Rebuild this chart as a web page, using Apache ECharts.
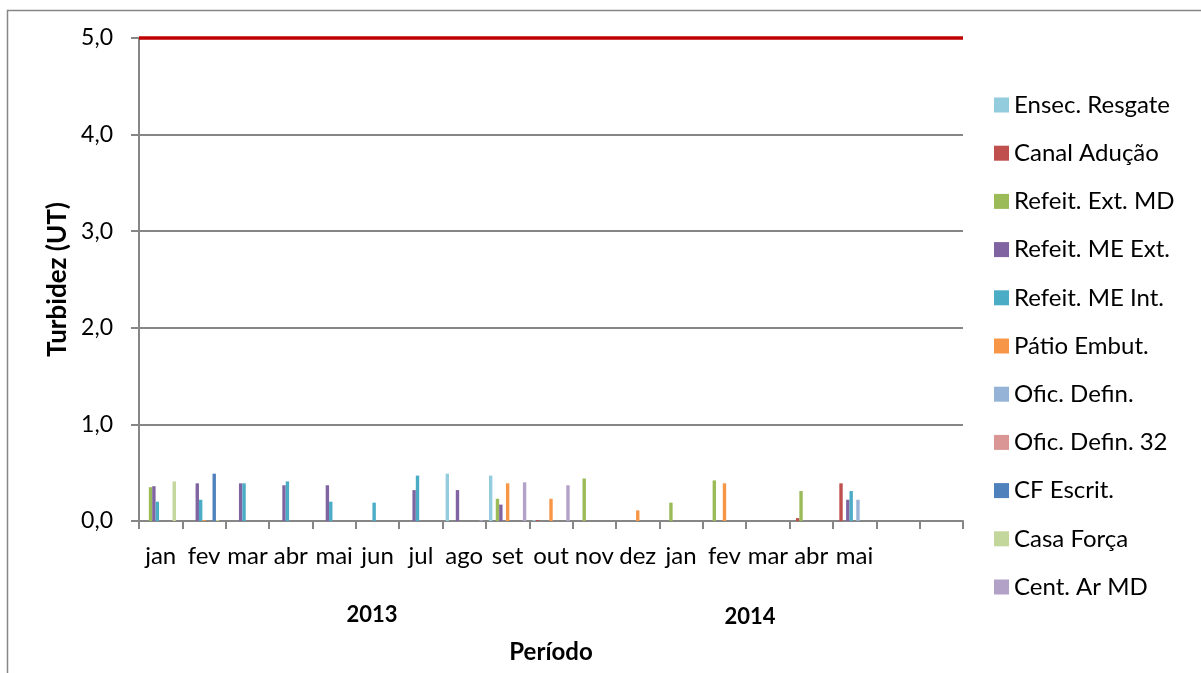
<!DOCTYPE html>
<html>
<head>
<meta charset="utf-8">
<title>Turbidez</title>
<script src="https://cdn.jsdelivr.net/npm/echarts@6/dist/echarts.min.js"></script>
<style>
  html, body { margin: 0; padding: 0; background: #ffffff; }
  #chart { width: 1201px; height: 673px; }
</style>
</head>
<body>
<div id="chart"></div>
<script>
// Month categories (2013 jan..dez, 2014 jan..mai, plus two empty slots)
const months = ['jan','fev','mar','abr','mai','jun','jul','ago','set','out','nov','dez',
                'jan','fev','mar','abr','mai','',''];
const yearLabels = ['2013', '2014'];
const yTicks = [0, 1, 2, 3, 4, 5];
const limitValue = 5.0;

const seriesNames = ['Ensec. Resgate','Canal Adução','Refeit. Ext. MD','Refeit. ME Ext.',
  'Refeit. ME Int.','Pátio Embut.','Ofic. Defin.','Ofic. Defin. 32','CF Escrit.',
  'Casa Força','Cent. Ar MD'];

// Turbidity readings (UT) per month; null = no reading
const N = null;
const ensecResgate   = [N,N,N,N,N,N,N,0.49,0.47,0.01,N,N, N,N,N,N,N, N,N];
const canalAducao    = [N,N,N,N,N,N,N,N,N,0.01,N,N, N,N,N,0.03,0.39, N,N];
const refeitExtMD    = [0.35,N,N,N,N,N,N,N,0.23,N,0.44,N, 0.19,0.42,N,0.31,N, N,N];
const refeitMEExt    = [0.36,0.39,0.39,0.37,0.37,N,0.32,0.32,0.17,N,N,N, N,N,N,N,0.22, N,N];
const refeitMEInt    = [0.20,0.22,0.39,0.41,0.20,0.19,0.47,N,N,N,N,N, N,N,N,N,0.31, N,N];
const patioEmbut     = [N,0.01,N,N,N,N,N,N,0.39,0.23,N,0.11, N,0.39,N,N,N, N,N];
const oficDefin      = [N,N,N,N,N,N,N,N,N,N,N,N, N,N,N,N,0.22, N,N];
const oficDefin32    = [N,N,N,N,N,N,N,N,N,N,N,N, N,N,N,N,N, N,N];
const cfEscrit       = [N,0.49,N,N,N,N,N,N,N,N,N,N, N,N,N,N,N, N,N];
const casaForca      = [0.41,0.01,N,N,N,N,N,N,N,N,N,N, N,N,N,N,N, N,N];
const centArMD       = [N,N,N,N,N,N,N,0.01,0.40,0.37,N,N, N,N,N,N,N, N,N];

const seriesData = [ensecResgate, canalAducao, refeitExtMD, refeitMEExt, refeitMEInt,
  patioEmbut, oficDefin, oficDefin32, cfEscrit, casaForca, centArMD];

const colors = ['#93cddd','#c0504d','#9bbb59','#8064a2','#4bacc6','#f79646',
  '#95b3d7','#d99694','#4f81bd','#c3d69b','#b3a2c7'];

const FONT = 'Lato, "Open Sans", sans-serif';
const GRAY = '#868686';

const chart = echarts.init(document.getElementById('chart'), null, { renderer: 'canvas' });

const series = seriesNames.map((name, i) => ({
  name: name,
  type: 'bar',
  data: seriesData[i],
  barGap: '0%',
  barCategoryGap: '14%',
  itemStyle: { color: colors[i] },
  emphasis: { disabled: true }
}));

// Red limit line at 5,0 UT
series[0].markLine = {
  silent: true,
  symbol: 'none',
  label: { show: false },
  lineStyle: { color: '#c00000', width: 3.5, type: 'solid' },
  data: [{ yAxis: limitValue }]
};

chart.setOption({
  animation: false,
  color: colors,
  textStyle: { fontFamily: FONT },
  grid: { left: 139, right: 238, top: 38, bottom: 152, containLabel: false },
  legend: {
    orient: 'vertical',
    left: 994,
    top: 93,
    padding: 0,
    itemWidth: 15,
    itemHeight: 15,
    itemGap: 24.2,
    icon: 'rect',
    textStyle: { fontFamily: FONT, fontSize: 24, color: '#000', lineHeight: 24 },
    data: seriesNames,
    selectedMode: false
  },
  xAxis: {
    type: 'category',
    data: months,
    boundaryGap: true,
    axisLine: { show: true, lineStyle: { color: GRAY, width: 2 } },
    axisTick: { show: true, length: 8, lineStyle: { color: GRAY, width: 2 } },
    axisLabel: { interval: 0, fontFamily: FONT, fontSize: 24, color: '#000', margin: 23 },
    name: 'Período',
    nameLocation: 'middle',
    nameGap: 119,
    nameTextStyle: { fontFamily: FONT, fontSize: 24, fontWeight: 'bold', color: '#000' }
  },
  yAxis: {
    type: 'value',
    min: yTicks[0],
    max: yTicks[yTicks.length - 1],
    interval: 1,
    axisLine: { show: true, lineStyle: { color: GRAY, width: 2 } },
    axisTick: { show: true, length: 8, lineStyle: { color: GRAY, width: 2 } },
    splitLine: { show: true, lineStyle: { color: GRAY, width: 2 } },
    axisLabel: {
      fontFamily: FONT, fontSize: 23, color: '#000', margin: 26,
      formatter: v => v.toFixed(1).replace('.', ',')
    },
    name: 'Turbidez (UT)',
    nameLocation: 'middle',
    nameGap: 68,
    nameRotate: 90,
    nameTextStyle: { fontFamily: FONT, fontSize: 26, fontWeight: 'bold', color: '#000' }
  },
  graphic: [
    {
      type: 'rect', silent: true, z: -1,
      shape: { x: 7.5, y: 10.5, width: 1300, height: 800 },
      style: { fill: 'none', stroke: GRAY, lineWidth: 1.5 }
    },
    {
      type: 'text', silent: true, x: 372, y: 615,
      style: { text: yearLabels[0], font: 'bold 22px ' + FONT, fill: '#000', align: 'center', verticalAlign: 'middle' }
    },
    {
      type: 'text', silent: true, x: 750, y: 617,
      style: { text: yearLabels[1], font: 'bold 22px ' + FONT, fill: '#000', align: 'center', verticalAlign: 'middle' }
    }
  ],
  series: series
});
</script>
</body>
</html>
